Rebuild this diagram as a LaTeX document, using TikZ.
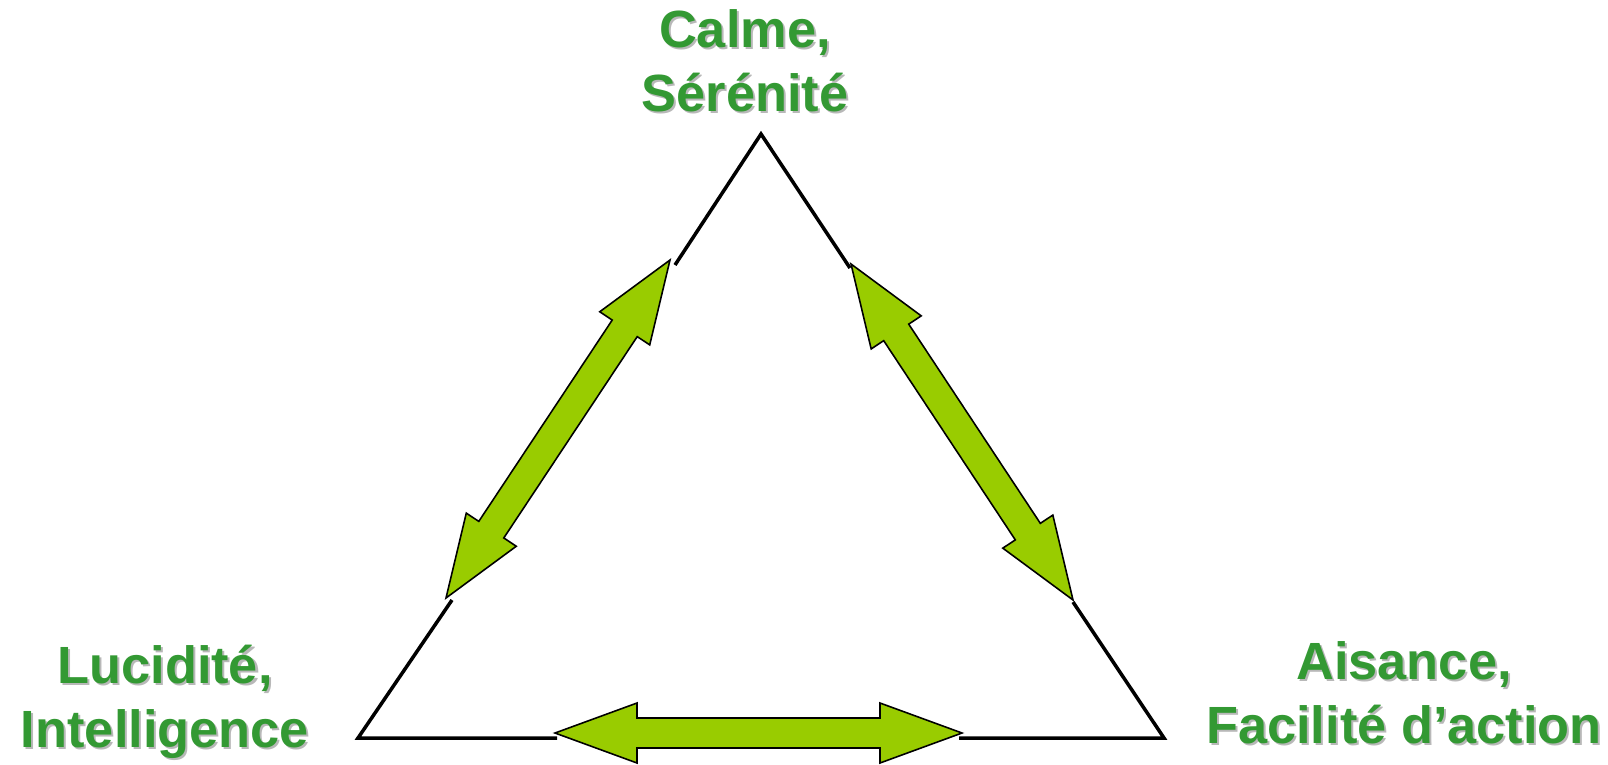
\documentclass[tikz,border=0pt]{standalone}
\usepackage{fontspec}
\setmainfont{Liberation Sans}
\usetikzlibrary{calc}
\definecolor{labelgreen}{RGB}{51,153,51}
\definecolor{arrowgreen}{RGB}{153,204,0}
% fat double arrow from tip #1 to tip #2
\newcommand{\fatarrow}[2]{%
  \coordinate (h1) at ($(#1)!1.64cm!(#2)$);
  \coordinate (h2) at ($(#2)!1.64cm!(#1)$);
  \draw [fatarrow] (#1) -- ($(h1)!0.6cm!-90:(#2)$) -- ($(h1)!0.3cm!-90:(#2)$)
    -- ($(h2)!0.3cm!90:(#1)$) -- ($(h2)!0.6cm!90:(#1)$) -- (#2)
    -- ($(h2)!0.6cm!-90:(#1)$) -- ($(h2)!0.3cm!-90:(#1)$)
    -- ($(h1)!0.3cm!90:(#2)$) -- ($(h1)!0.6cm!90:(#2)$) -- cycle;}

\begin{document}
\begin{tikzpicture}[x=0.02cm,y=-0.02cm,
  lbl/.style={font=\fontsize{29.8}{36.4}\selectfont\bfseries, align=center,
    anchor=north, inner sep=0pt, text=labelgreen},
  lblshadow/.style={lbl, text=black!28},
  side/.style={line width=2pt, line join=miter},
  fatarrow/.style={draw=black, line width=0.9pt, fill=arrowgreen, line join=miter}]
\useasboundingbox (0,0) rectangle (1608,764);

% labels (grey shadow first)
\node [lblshadow] (calme-s) at (747,11)  {Calme,\\Sérénité};
\node [lbl]       (calme)   at (745,9)   {Calme,\\Sérénité};
\node [lblshadow] (lucid-s) at (167,647) {Lucidité,\\Intelligence};
\node [lbl]       (lucid)   at (165,645) {Lucidité,\\Intelligence};
\node [lblshadow] (aisan-s) at (1406,643) {Aisance,\\Facilité d’action};
\node [lbl]       (aisan)   at (1404,641) {Aisance,\\Facilité d’action};

% triangle corners and gap ends
\coordinate (apex)    at (761,134);
\coordinate (cornerL) at (358,738);
\coordinate (cornerR) at (1164,738);
\coordinate (gapL1)   at (675,265);
\coordinate (gapL2)   at (452,600);
\coordinate (gapR1)   at (850,268);
\coordinate (gapR2)   at (1073,602);
\coordinate (gapB1)   at (557,738);
\coordinate (gapB2)   at (959,738);

\draw [side] (gapL1) -- (apex) -- (gapR1);
\draw [side] (gapL2) -- (cornerL) -- (gapB1);
\draw [side] (gapB2) -- (cornerR) -- (gapR2);

% arrow tips
\coordinate (tipL1) at (670,260);
\coordinate (tipL2) at (446,598);
\coordinate (tipR1) at (851,264);
\coordinate (tipR2) at (1073,600);
\coordinate (tipB1) at (555,733);
\coordinate (tipB2) at (962,733);

\fatarrow{tipL2}{tipL1}
\fatarrow{tipR1}{tipR2}
\fatarrow{tipB1}{tipB2}
\end{tikzpicture}
\end{document}
